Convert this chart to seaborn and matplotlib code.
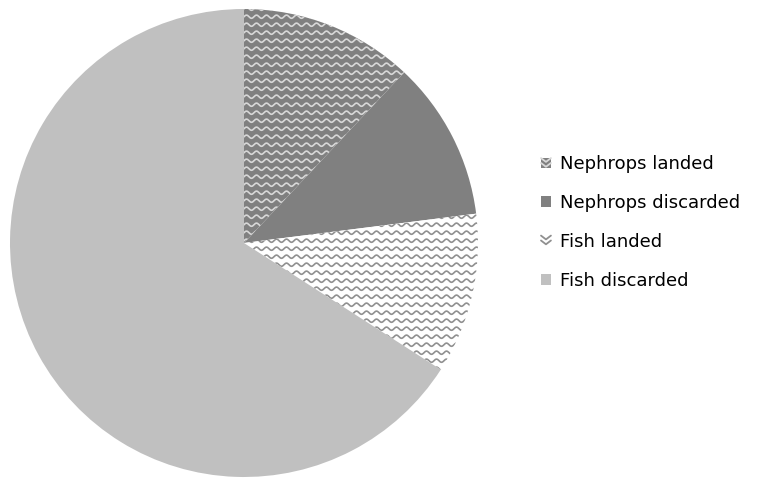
import numpy as np
import matplotlib
matplotlib.use("Agg")
import matplotlib.pyplot as plt
import seaborn as sns
from matplotlib.patches import Rectangle, Patch
from matplotlib.legend_handler import HandlerBase

# data (shares of the catch, %)
categories = ["Nephrops landed", "Nephrops discarded", "Fish landed", "Fish discarded"]
shares = [12.0, 11.0, 11.1, 65.9]

# fill / wave colours per slice (None = no wave pattern)
fills = ["#808080", "#808080", "#ffffff", "#c0c0c0"]
waves = ["#d8d8d8", None, "#909090", None]

sns.set_theme(style="white")
plt.rcParams["font.family"] = ["DejaVu Sans"]
plt.rcParams["text.color"] = "black"

W, H = 759, 479
fig = plt.figure(figsize=(W / 100, H / 100), dpi=100)
cx, cy, r = 244, 243, 234
ax = fig.add_axes([(cx - r) / W, (H - cy - r) / H, 2 * r / W, 2 * r / H])

wedges, _ = ax.pie(shares, colors=fills, startangle=90, counterclock=False,
                   radius=1.0, wedgeprops=dict(linewidth=0))
ax.set_xlim(-1, 1)
ax.set_ylim(-1, 1)
ax.set_aspect("equal")
ax.axis("off")


def wave_lines(x0, x1, y0, y1, period, gap, amp):
    xs = np.linspace(x0, x1, int((x1 - x0) / period * 24) + 2)
    out = []
    for yb in np.arange(y0, y1 + gap, gap):
        out.append((xs, yb + amp * np.sin(2 * np.pi * xs / period)))
    return out


# wavy pattern, clipped to each patterned wedge
px = 1.0 / r
for wedge, wc in zip(wedges, waves):
    if wc is None:
        continue
    for xs, ys in wave_lines(-1.05, 1.05, -1.05, 1.05, 10 * px, 8 * px, 1.6 * px):
        ln, = ax.plot(xs, ys, color=wc, lw=1.2, solid_capstyle="butt")
        ln.set_clip_path(wedge)


class WaveHandler(HandlerBase):
    def __init__(self, face, wave):
        super().__init__()
        self.face = face
        self.wave = wave

    def create_artists(self, legend, orig_handle, xdescent, ydescent,
                       width, height, fontsize, trans):
        x0, y0 = -xdescent, -ydescent
        face = self.face if self.wave is None or self.face != "#ffffff" else "none"
        rect = Rectangle((x0, y0), width, height, facecolor=face,
                         edgecolor="none", transform=trans)
        arts = [rect]
        if self.wave is not None:
            for k in range(2):
                top = y0 + height * (0.95 - 0.45 * k)
                xs = [x0, x0 + width / 2, x0 + width]
                ys = [top, top - height * 0.35, top]
                ln = plt.Line2D(xs, ys, color=self.wave, lw=1.3, transform=trans)
                arts.append(ln)
        return arts


handles = [Patch(label=c) for c in categories]
hmap = {h: WaveHandler(f, w) for h, f, w in zip(handles, fills, waves)}
fig.legend(handles=handles, labels=categories, handler_map=hmap,
           loc="center left", bbox_to_anchor=(541 / W, (H - 222.5) / H),
           frameon=False, fontsize=13, handlelength=0.55, handleheight=0.55,
           handletextpad=0.5, labelspacing=1.15, borderpad=0, borderaxespad=0,
           labelcolor="black")

fig.savefig("out.png", dpi=100, facecolor="white")
